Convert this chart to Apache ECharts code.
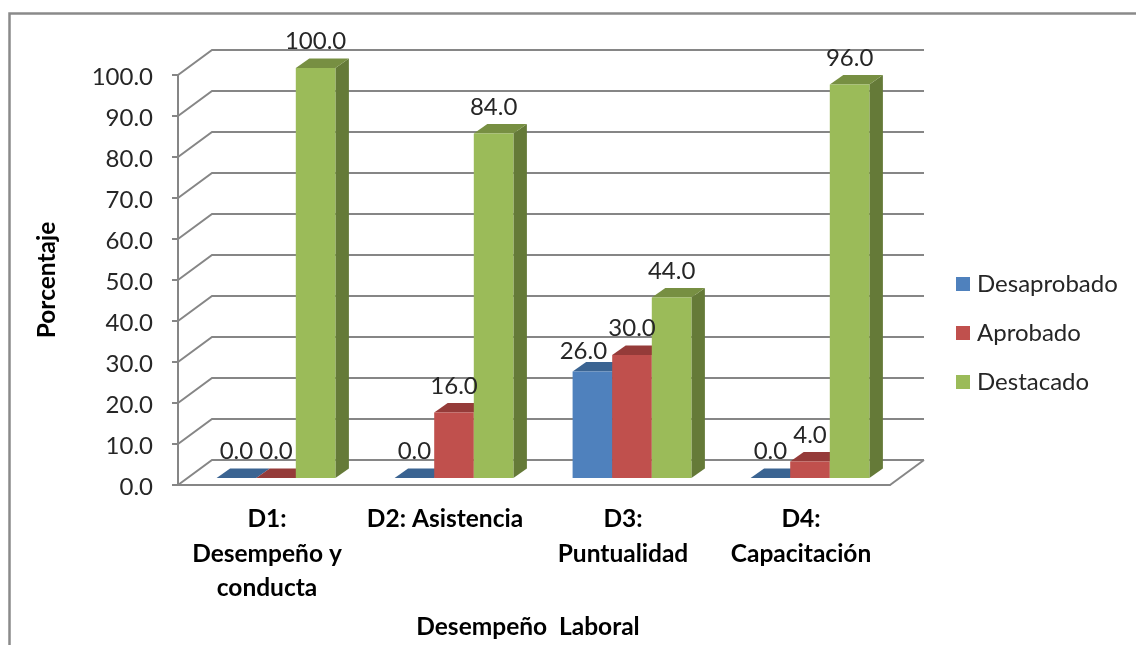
<!DOCTYPE html>
<html>
<head>
<meta charset="utf-8">
<style>html,body{margin:0;padding:0;background:#fff}#chart{width:1136px;height:645px}</style>
<script src="https://cdn.jsdelivr.net/npm/echarts@6/dist/echarts.min.js"></script>
</head>
<body>
<div id="chart"></div>
<script>
// Desempeño laboral: porcentaje por dimensión y nivel
const categories = ['D1:\nDesempeño y\nconducta', 'D2: Asistencia', 'D3:\nPuntualidad', 'D4:\nCapacitación'];
const desaprobado = [0, 0, 26, 0];
const aprobado = [0, 16, 30, 4];
const destacado = [100, 84, 44, 96];
const ticks = [0, 10, 20, 30, 40, 50, 60, 70, 80, 90, 100];

const FONT = 'Lato';
const AXIS_GRAY = '#868686';
const WALL = [34, -25];        // depth of the chart box
const BAR_SHIFT = [9, -7];     // bars stand in the middle of the floor
const BAR_DEPTH = [13.5, -9.5];
const BAR_WIDTH = 39.6;

const palette = {
  Desaprobado: { front: '#4F81BD', top: '#3B6492', side: '#2F4F75' },
  Aprobado: { front: '#C0504D', top: '#953B39', side: '#7A302E' },
  Destacado: { front: '#9BBB59', top: '#778F42', side: '#657A38' }
};

// Back and side wall lines, one per value tick, plus the floor edge
function renderWall(params, api) {
  const box = params.coordSys;
  const y = api.coord([0, api.value(1)])[1];
  const line = { stroke: AXIS_GRAY, lineWidth: 2, fill: null };
  const x0 = box.x, bx = x0 + WALL[0], by = y + WALL[1];
  const children = [{
    type: 'polyline',
    shape: { points: [[x0, y], [bx, by], [box.x + box.width + WALL[0], by]] },
    style: line
  }];
  if (api.value(1) === 0) {
    children.push({
      type: 'line',
      shape: { x1: box.x + box.width, y1: y, x2: box.x + box.width + WALL[0], y2: by },
      style: line
    });
  }
  return { type: 'group', children };
}

// One extruded column: front, top and side faces with its value above
function barRenderer(name, slot, nudges) {
  const c = palette[name];
  return function (params, api) {
    const cat = api.value(0), val = api.value(1);
    const p = api.coord([cat, val]);
    const base = api.coord([cat, 0]);
    const xl = p[0] + BAR_SHIFT[0] + (slot - 1.5) * BAR_WIDTH;
    const xr = xl + BAR_WIDTH;
    const yt = p[1] + BAR_SHIFT[1];
    const yb = base[1] + BAR_SHIFT[1];
    const dx = BAR_DEPTH[0], dy = BAR_DEPTH[1];
    const nudge = nudges[cat] || [0, 0];
    return {
      type: 'group',
      children: [
        { type: 'polygon', shape: { points: [[xr, yt], [xr + dx, yt + dy], [xr + dx, yb + dy], [xr, yb]] }, style: { fill: c.side } },
        { type: 'polygon', shape: { points: [[xl, yt], [xl + dx, yt + dy], [xr + dx, yt + dy], [xr, yt]] }, style: { fill: c.top } },
        { type: 'rect', shape: { x: xl, y: yt, width: BAR_WIDTH, height: yb - yt }, style: { fill: c.front } },
        {
          type: 'text', z2: 100,
          style: {
            text: val.toFixed(1),
            x: (xl + xr) / 2 + nudge[0], y: yt - 26.5 + nudge[1],
            align: 'center', verticalAlign: 'middle',
            font: '24px ' + FONT, fill: '#262626'
          }
        }
      ]
    };
  };
}

function barSeries(name, values, slot, nudges) {
  return {
    name, type: 'custom', z: 3,
    itemStyle: { color: palette[name].front },
    encode: { x: 0, y: 1 },
    data: values.map((v, i) => [i, v]),
    renderItem: barRenderer(name, slot, nudges || {})
  };
}

const chart = echarts.init(document.getElementById('chart'), null, { renderer: 'canvas' });
chart.setOption({
  animation: false,
  backgroundColor: '#ffffff',
  textStyle: { fontFamily: FONT },
  graphic: [{
    type: 'polyline', silent: true,
    shape: { points: [[9.5, 650], [9.5, 13.5], [1140, 13.5]] },
    style: { stroke: '#8A8A8A', lineWidth: 2.5, fill: null }
  }],
  grid: { left: 178, top: 75, width: 712, height: 410 },
  legend: {
    orient: 'vertical', left: 951, top: 267,
    data: ['Desaprobado', 'Aprobado', 'Destacado'],
    icon: 'rect', itemWidth: 14, itemHeight: 14, itemGap: 25, selectedMode: false,
    textStyle: { fontFamily: FONT, fontSize: 24, color: '#262626', padding: [0, 0, 0, 2] }
  },
  xAxis: {
    type: 'category', data: categories,
    name: 'Desempeño  Laboral', nameLocation: 'middle', nameGap: 130,
    nameTextStyle: { fontFamily: FONT, fontSize: 24.5, fontWeight: 'bold', color: '#000', padding: [0, 12, 0, 0] },
    axisTick: { show: false },
    axisLine: { lineStyle: { color: AXIS_GRAY, width: 2 } },
    axisLabel: {
      interval: 0, margin: 17, lineHeight: 34.5, verticalAlign: 'top',
      fontFamily: FONT, fontSize: 24.5, fontWeight: 'bold', color: '#000'
    }
  },
  yAxis: {
    type: 'value', min: 0, max: 100, interval: 10,
    name: 'Porcentaje', nameLocation: 'middle', nameGap: 118, nameRotate: 90,
    nameTextStyle: { fontFamily: FONT, fontSize: 24.5, fontWeight: 'bold', color: '#000' },
    splitLine: { show: false },
    axisLine: { show: true, lineStyle: { color: AXIS_GRAY, width: 2 } },
    axisTick: { show: true, length: 6, lineStyle: { color: AXIS_GRAY, width: 2 } },
    axisLabel: {
      margin: 25, fontFamily: FONT, fontSize: 24, color: '#262626',
      verticalAlign: 'top', lineHeight: 5,
      formatter: v => v.toFixed(1)
    }
  },
  series: [
    {
      name: 'pared', type: 'custom', z: 1, silent: true,
      encode: { x: 0, y: 1 },
      data: ticks.map(v => [0, v]),
      renderItem: renderWall
    },
    barSeries('Desaprobado', desaprobado, 0, { 2: [-9, 6.5] }),
    barSeries('Aprobado', aprobado, 1),
    barSeries('Destacado', destacado, 2)
  ]
});
</script>
</body>
</html>
